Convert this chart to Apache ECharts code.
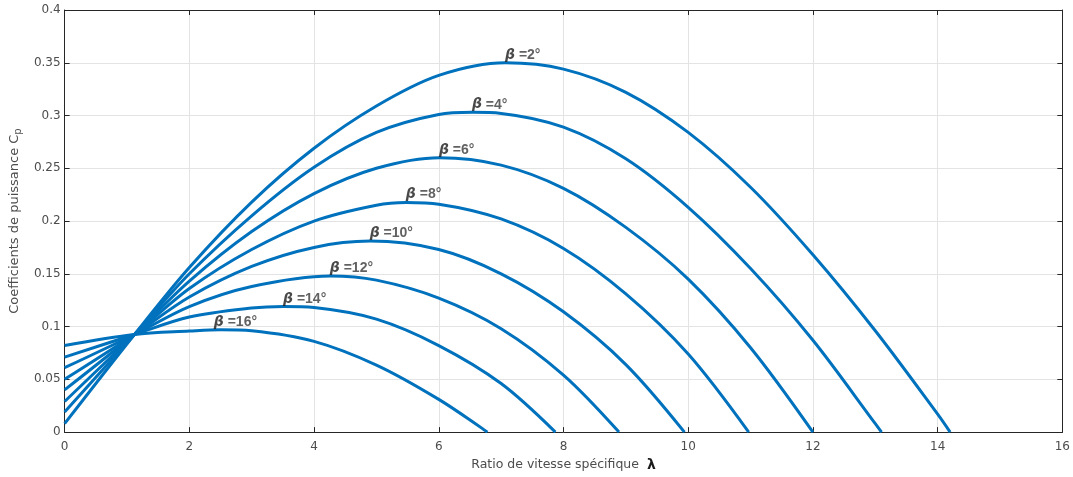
<!DOCTYPE html>
<html>
<head>
<meta charset="utf-8">
<script src="https://cdn.jsdelivr.net/npm/echarts@6/dist/echarts.min.js"></script>
<style>
html,body{margin:0;padding:0;background:#fff;}
#chart{width:1073px;height:477px;}
</style>
</head>
<body>
<div id="chart"></div>
<script>
// ---- Data ----
const betas = [2, 4, 6, 8, 10, 12, 14, 16];

const lam_b2  = [0, 1.12, 2, 3, 4, 5, 6, 7.07, 8, 9, 10, 11, 12, 13, 14, 14.2];
const cp_b2   = [0.008, 0.0925, 0.156, 0.218, 0.269, 0.309, 0.338, 0.350, 0.344, 0.322, 0.284, 0.232, 0.168, 0.096, 0.017, 0];

const lam_b4  = [0, 1.12, 2, 3, 4, 5, 6, 6.54, 7, 8, 9, 10, 11, 12, 13, 13.1];
const cp_b4   = [0.019, 0.0925, 0.150, 0.205, 0.251, 0.284, 0.301, 0.303, 0.302, 0.289, 0.259, 0.213, 0.155, 0.087, 0.008, 0];

const lam_b6  = [0, 1.12, 2, 3, 4, 5, 6.01, 7, 8, 9, 10, 11, 12];
const cp_b6   = [0.029, 0.0925, 0.143, 0.190, 0.226, 0.250, 0.260, 0.253, 0.231, 0.194, 0.145, 0.080, 0];

const lam_b8  = [0, 1.12, 2, 3, 4, 5, 5.48, 6, 7, 8, 9, 10, 10.97];
const cp_b8   = [0.040, 0.0925, 0.136, 0.173, 0.200, 0.215, 0.2175, 0.216, 0.202, 0.174, 0.131, 0.074, 0];

const lam_b10 = [0, 1.12, 2, 3, 4, 4.9, 6, 7, 8, 9, 9.94];
const cp_b10  = [0.050, 0.0925, 0.128, 0.157, 0.175, 0.181, 0.173, 0.150, 0.114, 0.064, 0];

const lam_b12 = [0, 1.12, 2, 3, 4.26, 5, 6, 7, 8, 8.89];
const cp_b12  = [0.061, 0.0925, 0.119, 0.138, 0.148, 0.144, 0.127, 0.098, 0.054, 0];

const lam_b14 = [0, 1.12, 2, 3, 3.51, 4, 5, 6, 7, 7.87];
const cp_b14  = [0.071, 0.0925, 0.109, 0.1175, 0.119, 0.118, 0.107, 0.082, 0.046, 0];

const lam_b16 = [0, 1.12, 2, 2.5, 3, 4, 5, 6, 6.78];
const cp_b16  = [0.082, 0.0925, 0.0957, 0.097, 0.096, 0.086, 0.0635, 0.031, 0];

// label anchor points (curve peaks)
const labelLambda = [7.07, 6.54, 6.01, 5.48, 4.90, 4.26, 3.51, 2.40];
const labelCp     = [0.350, 0.303, 0.260, 0.218, 0.181, 0.148, 0.119, 0.097];

const xTicks = [0, 2, 4, 6, 8, 10, 12, 14, 16];
const yTicks = [0, 0.05, 0.1, 0.15, 0.2, 0.25, 0.3, 0.35, 0.4];

const xName = 'Ratio de vitesse spécifique';
const yName = 'Coefficients de puissance C';

// ---- Build chart ----
const lams = [lam_b2, lam_b4, lam_b6, lam_b8, lam_b10, lam_b12, lam_b14, lam_b16];
const cps  = [cp_b2, cp_b4, cp_b6, cp_b8, cp_b10, cp_b12, cp_b14, cp_b16];

const LINE = '#0072BD';
const AX = '#262626';
const TXT = '#4d4d4d';
const FONT = '"Liberation Sans", Arial, sans-serif';
const WFONT = '"DejaVu Sans", sans-serif';

const series = [];
betas.forEach((b, i) => {
  series.push({
    name: 'beta' + b,
    type: 'line',
    data: lams[i].map((l, k) => [l, cps[i][k]]),
    smooth: 0.33,
    showSymbol: false,
    symbol: 'none',
    lineStyle: { color: LINE, width: 3 },
    z: 3,
    silent: true
  });
});
series.push({
  name: 'labels',
  type: 'scatter',
  data: betas.map((b, i) => ({ value: [labelLambda[i], labelCp[i]], beta: b })),
  symbolSize: 1,
  itemStyle: { color: 'rgba(0,0,0,0)' },
  silent: true,
  z: 5,
  label: {
    show: true,
    position: [0, -14],
    align: 'left',
    verticalAlign: 'top',
    formatter: p => '{b|β}{t| =' + p.data.beta + '°}',
    rich: {
      b: { fontFamily: WFONT, fontStyle: 'italic', fontWeight: 'bold', fontSize: 14, color: '#1a1a1a' },
      t: { fontFamily: FONT, fontWeight: 'bold', fontSize: 14, color: '#3a3a3a' }
    }
  }
});

const chart = echarts.init(document.getElementById('chart'), null, { renderer: 'canvas' });
chart.setOption({
  animation: false,
  backgroundColor: '#ffffff',
  grid: { left: 63, right: 7, top: 10, bottom: 42, containLabel: false },
  xAxis: [{
    type: 'value', min: 0, max: 16, interval: 2,
    position: 'bottom',
    name: xName + '  {l|λ}',
    nameLocation: 'middle', nameGap: 24,
    nameTextStyle: {
      fontFamily: WFONT, fontSize: 12.5, color: TXT,
      rich: { l: { fontFamily: WFONT, fontWeight: 'bold', fontSize: 14, color: '#1a1a1a' } }
    },
    axisLine: { show: true, onZero: false, lineStyle: { color: AX, width: 1 } },
    axisTick: { show: true, inside: true, length: 5, lineStyle: { color: AX } },
    axisLabel: { fontFamily: WFONT, fontSize: 12, color: TXT, margin: 9 },
    splitLine: { show: true, lineStyle: { color: '#e3e3e3', width: 1 } }
  }, {
    type: 'value', min: 0, max: 16, interval: 2,
    position: 'top',
    axisLine: { show: true, onZero: false, lineStyle: { color: AX, width: 1 } },
    axisTick: { show: true, inside: true, length: 5, lineStyle: { color: AX } },
    axisLabel: { show: false },
    splitLine: { show: false }
  }],
  yAxis: [{
    type: 'value', min: 0, max: 0.4, interval: 0.05,
    position: 'left',
    name: '{n|' + yName + '}{s|p}',
    nameLocation: 'middle', nameGap: 40, nameRotate: 90,
    nameTextStyle: {
      fontFamily: WFONT, fontSize: 13, color: TXT,
      rich: {
        n: { fontFamily: WFONT, fontSize: 13, color: TXT },
        s: { fontFamily: WFONT, fontSize: 10, color: TXT, verticalAlign: 'bottom', padding: [7, 0, 0, 0] }
      }
    },
    axisLine: { show: true, onZero: false, lineStyle: { color: AX, width: 1 } },
    axisTick: { show: true, inside: true, length: 5, lineStyle: { color: AX } },
    axisLabel: { fontFamily: WFONT, fontSize: 12, color: TXT, margin: 4,
      formatter: v => String(+v.toFixed(2)) },
    splitLine: { show: true, lineStyle: { color: '#e3e3e3', width: 1 } }
  }, {
    type: 'value', min: 0, max: 0.4, interval: 0.05,
    position: 'right',
    axisLine: { show: true, onZero: false, lineStyle: { color: AX, width: 1 } },
    axisTick: { show: true, inside: true, length: 5, lineStyle: { color: AX } },
    axisLabel: { show: false },
    splitLine: { show: false }
  }],
  series: series
});
</script>
</body>
</html>
